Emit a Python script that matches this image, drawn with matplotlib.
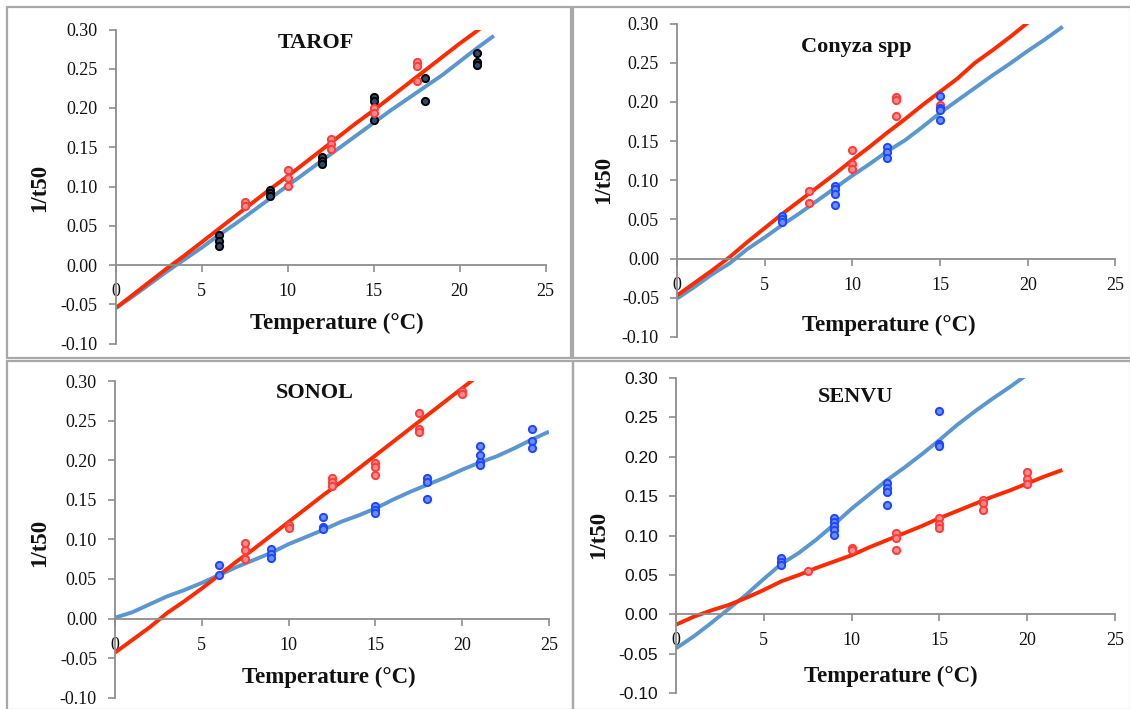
import matplotlib
matplotlib.use("Agg")
import matplotlib.pyplot as plt
from matplotlib.patches import Rectangle

# ---------------- data ----------------
line_x22 = list(range(0, 23))
line_x25 = list(range(0, 26))

# TAROF
tarof_red_line = [-0.055, -0.038, -0.021, -0.004, 0.012, 0.029, 0.046, 0.063, 0.080, 0.097, 0.113,
                  0.130, 0.147, 0.164, 0.181, 0.197, 0.214, 0.231, 0.248, 0.265, 0.282, 0.298, 0.315]
tarof_blue_line = [-0.055, -0.040, -0.024, -0.008, 0.007, 0.022, 0.038, 0.053, 0.069, 0.085, 0.101,
                   0.117, 0.133, 0.149, 0.165, 0.181, 0.197, 0.212, 0.227, 0.242, 0.259, 0.276, 0.292]
tarof_dark_x = [6, 6, 6, 9, 9, 9, 12, 12, 12, 15, 15, 15, 18, 18, 21, 21, 21]
tarof_dark_y = [0.038, 0.030, 0.024, 0.096, 0.092, 0.088, 0.137, 0.133, 0.129, 0.214, 0.209, 0.185,
                0.238, 0.209, 0.270, 0.258, 0.255]
tarof_red_x = [7.5, 7.5, 10, 10, 10, 12.5, 12.5, 12.5, 15, 15, 17.5, 17.5, 17.5]
tarof_red_y = [0.080, 0.075, 0.121, 0.111, 0.101, 0.160, 0.154, 0.148, 0.200, 0.194, 0.258, 0.254, 0.234]

# Conyza spp
conyza_red_line = [-0.047, -0.031, -0.015, 0.002, 0.021, 0.039, 0.057, 0.074, 0.091, 0.108, 0.126,
                   0.143, 0.161, 0.178, 0.196, 0.213, 0.230, 0.250, 0.266, 0.283, 0.301, 0.318, 0.335]
conyza_blue_line = [-0.051, -0.036, -0.020, -0.006, 0.012, 0.027, 0.043, 0.058, 0.074, 0.090, 0.106,
                    0.121, 0.137, 0.151, 0.168, 0.186, 0.202, 0.218, 0.234, 0.249, 0.265, 0.280, 0.296]
conyza_blue_x = [6, 6, 6, 9, 9, 9, 9, 12, 12, 12, 15, 15, 15, 15]
conyza_blue_y = [0.055, 0.051, 0.047, 0.093, 0.089, 0.082, 0.068, 0.142, 0.136, 0.129, 0.207, 0.192, 0.189, 0.177]
conyza_red_x = [7.5, 7.5, 10, 10, 10, 12.5, 12.5, 12.5, 15]
conyza_red_y = [0.086, 0.071, 0.139, 0.121, 0.114, 0.206, 0.202, 0.182, 0.196]

# SONOL
sonol_red_line = [-0.043, -0.027, -0.011, 0.007, 0.022, 0.038, 0.055, 0.072, 0.088, 0.105, 0.122,
                  0.139, 0.156, 0.172, 0.189, 0.206, 0.223, 0.240, 0.257, 0.274, 0.291, 0.308]
sonol_blue_line = [0.001, 0.008, 0.018, 0.028, 0.036, 0.045, 0.055, 0.065, 0.074, 0.083, 0.094,
                   0.103, 0.112, 0.122, 0.130, 0.139, 0.150, 0.160, 0.169, 0.178, 0.188, 0.197,
                   0.205, 0.215, 0.226, 0.236]
sonol_blue_x = [6, 6, 9, 9, 9, 12, 12, 12, 15, 15, 15, 18, 18, 18, 21, 21, 21, 21, 24, 24, 24]
sonol_blue_y = [0.067, 0.055, 0.088, 0.082, 0.077, 0.128, 0.116, 0.113, 0.142, 0.137, 0.133,
                0.178, 0.173, 0.151, 0.218, 0.206, 0.198, 0.194, 0.239, 0.224, 0.215]
sonol_red_x = [7.5, 7.5, 7.5, 10, 10, 12.5, 12.5, 12.5, 15, 15, 15, 17.5, 17.5, 17.5, 20, 20]
sonol_red_y = [0.096, 0.086, 0.075, 0.118, 0.114, 0.178, 0.173, 0.168, 0.196, 0.192, 0.181,
               0.259, 0.240, 0.235, 0.288, 0.284]

# SENVU
senvu_red_line = [-0.013, -0.003, 0.005, 0.012, 0.021, 0.031, 0.042, 0.050, 0.059, 0.067, 0.075,
                  0.085, 0.094, 0.103, 0.112, 0.122, 0.131, 0.140, 0.149, 0.157, 0.166, 0.175, 0.183]
senvu_blue_line = [-0.043, -0.028, -0.011, 0.007, 0.025, 0.045, 0.064, 0.078, 0.095, 0.114, 0.134,
                   0.152, 0.170, 0.186, 0.203, 0.221, 0.240, 0.257, 0.273, 0.288, 0.304, 0.320, 0.336]
senvu_blue_x = [6, 6, 6, 9, 9, 9, 9, 9, 12, 12, 12, 12, 15, 15, 15]
senvu_blue_y = [0.071, 0.067, 0.063, 0.122, 0.117, 0.112, 0.107, 0.101, 0.166, 0.160, 0.155, 0.139,
                0.258, 0.216, 0.213]
senvu_red_x = [7.5, 10, 10, 12.5, 12.5, 12.5, 15, 15, 15, 17.5, 17.5, 17.5, 20, 20, 20]
senvu_red_y = [0.055, 0.084, 0.081, 0.103, 0.097, 0.082, 0.122, 0.115, 0.110, 0.145, 0.141, 0.132,
               0.181, 0.172, 0.165]

titles = ["TAROF", "Conyza spp", "SONOL", "SENVU"]
x_ticks = [0, 5, 10, 15, 20, 25]
y_ticks = [-0.10, -0.05, 0.00, 0.05, 0.10, 0.15, 0.20, 0.25, 0.30]

# ---------------- style ----------------
RED = "#FF2A00"
BLUE = "#5A96D0"
SERIF = "Liberation Serif"
SANS = "Liberation Sans"
W, H = 1130, 709

fig = plt.figure(figsize=(W / 100, H / 100), dpi=100)

def fx(px):
    return px / W

def fy(py):
    return 1 - py / H

# panel frames (pixel coords)
frames = [(7, 7, 571, 358), (573, 7, 1131, 358), (7, 361, 573, 710), (573, 361, 1131, 710)]
for (x0, y0, x1, y1) in frames:
    fig.patches.append(Rectangle((fx(x0), fy(y1)), fx(x1 - x0), (y1 - y0) / H,
                                 transform=fig.transFigure, fill=False,
                                 edgecolor="#A8A8A8", linewidth=1.6, zorder=0))

# axes positions in pixel coords: left, right, top, bottom
axpos = [(115.6, 545.5, 29.5, 343.5), (677, 1115.4, 23.5, 337),
         (115, 549, 381, 697.7), (676, 1115, 377.7, 693.3)]
title_pos = [(11.65, 0.283), (10.24, 0.270), (11.5, 0.285), (10.23, 0.275)]
xlabel_pos = [(12.84, -0.074), (12.07, -0.085), (12.3, -0.075), (12.24, -0.079)]
ylabel_pix = [(40, 188), (604, 180), (40, 543), (599, 535)]

panels = [
    dict(lines=[(line_x22, tarof_blue_line, BLUE), (line_x22, tarof_red_line, RED)],
         pts=[(tarof_dark_x, tarof_dark_y, "#2E4A6E", "#000000"),
              (tarof_red_x, tarof_red_y, "#FF8C8C", "#FF3B3B")],
         ysans=False),
    dict(lines=[(line_x22, conyza_blue_line, BLUE), (line_x22, conyza_red_line, RED)],
         pts=[(conyza_red_x, conyza_red_y, "#FF8C8C", "#FF3B3B"),
              (conyza_blue_x, conyza_blue_y, "#6F8CFF", "#1E46FF")],
         ysans=False),
    dict(lines=[(line_x25, sonol_blue_line, BLUE), (line_x22[:22], sonol_red_line, RED)],
         pts=[(sonol_red_x, sonol_red_y, "#FF8C8C", "#FF3B3B"),
              (sonol_blue_x, sonol_blue_y, "#6F8CFF", "#1E46FF")],
         ysans=False),
    dict(lines=[(line_x22, senvu_blue_line, BLUE), (line_x22, senvu_red_line, RED)],
         pts=[(senvu_red_x, senvu_red_y, "#FF8C8C", "#FF3B3B"),
              (senvu_blue_x, senvu_blue_y, "#6F8CFF", "#1E46FF")],
         ysans=True),
]

for i, p in enumerate(panels):
    l, r, t, b = axpos[i]
    ax = fig.add_axes([fx(l), fy(b), (r - l) / W, (b - t) / H])
    ax.set_xlim(0, 25)
    ax.set_ylim(-0.10, 0.30)
    ax.patch.set_alpha(0)
    for xs, ys, c in p["lines"]:
        ax.plot(xs, ys, color=c, lw=2.8, solid_capstyle="butt", zorder=2)
    for xs, ys, fc, ec in p["pts"]:
        ax.plot(xs, ys, "o", ls="none", ms=5.2, mfc=fc, mec=ec, mew=1.4, zorder=3)
    for s in ["top", "right"]:
        ax.spines[s].set_visible(False)
    ax.spines["bottom"].set_position(("data", 0))
    for s in ["left", "bottom"]:
        ax.spines[s].set_color("#8E8E8E")
        ax.spines[s].set_linewidth(1.3)
    ax.set_xticks(x_ticks)
    ax.set_xticklabels([str(v) for v in x_ticks], fontfamily=SERIF, fontsize=13)
    ax.set_yticks(y_ticks)
    ax.set_yticklabels(["%.2f" % v for v in y_ticks],
                       fontfamily=SANS if p["ysans"] else SERIF,
                       fontsize=12.5 if p["ysans"] else 13)
    ax.tick_params(axis="both", direction="out", length=5, width=1.2, color="#8E8E8E",
                   labelcolor="#111111")
    ax.tick_params(axis="y", pad=8)
    ax.tick_params(axis="x", pad=8)
    tx, ty = title_pos[i]
    ax.text(tx, ty, titles[i], ha="center", va="center", fontfamily=SERIF,
            fontweight="bold", fontsize=16, color="#111111")
    lx, ly = xlabel_pos[i]
    ax.text(lx, ly, "Temperature (°C)", ha="center", va="center", fontfamily=SERIF,
            fontweight="bold", fontsize=16.5, color="#111111", clip_on=False)
    px, py = ylabel_pix[i]
    fig.text(fx(px), fy(py), "1/t50", rotation=90, ha="center", va="center",
             fontfamily=SERIF, fontweight="bold", fontsize=16.5, color="#111111")

fig.savefig("out.png", dpi=100)
